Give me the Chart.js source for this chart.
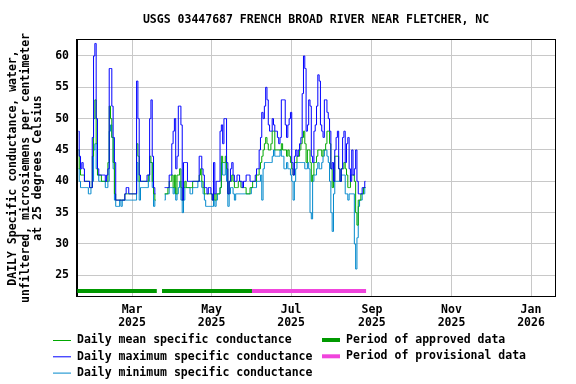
<!DOCTYPE html>
<html>
<head>
<meta charset="utf-8">
<script src="https://cdn.jsdelivr.net/npm/chart.js@4.4.1/dist/chart.umd.min.js"></script>
<style>
  html, body { margin: 0; padding: 0; background: #fff; }
  #wrap { width: 576px; height: 384px; }
</style>
</head>
<body>
<div id="wrap"><canvas id="chart" width="576" height="384"></canvas></div>
<script>
// ==================================
// Data (day numbers count from Jan 1 2025 = 0)
// ==================================
const firstDayA = 18;   // Jan 19 2025
const firstDayB = 84;   // Mar 26 2025

const maxA = [48,44,42,43,42,40,40,40,40,39, 39,47,60,62,50,42,41,41,41,41,
  41,40,41,42,58,58,52,47,43,37, 37,37,37,37,37,37,38,39,39,38,
  38,38,38,38,38,56,50,41,40,40, 40,40,40,41,41,50,53,44,39,38];
const meanA = [45,42,41,41,41,40,40,40,40,39, 39,44,50,53,46,41,41,41,40,40,
  40,40,40,43,52,50,47,43,38,37, 37,37,37,37,37,37,38,38,38,38,
  38,38,38,38,38,46,44,40,40,40, 40,40,40,40,41,44,43,40,38,37];
const minA = [42,40,39,39,39,39,39,39,38,38, 39,40,45,46,42,41,40,40,40,40,
  40,39,39,40,48,49,47,42,37,36, 36,36,37,36,37,37,37,37,37,37,
  37,37,37,37,37,43,40,37,39,39, 39,39,39,39,40,43,43,39,36,37];

const maxB = [39,39,39,39,41,41,46,48,50,42, 44,52,52,49,37,43,43,43,40,40,
  40,40,40,40,40,40,40,44,44,42, 41,39,39,38,39,39,38,37,43,38,
  40,40,40,48,49,46,50,50,43,38, 40,42,43,41,40,40,41,41,40,40,
  39,40,40,41,41,41,40,40,40,40, 41,42,42,45,47,51,50,52,55,53,
  49,48,48,50,49,48,48,47,46,47, 53,53,53,49,47,49,50,51,43,41,
  44,45,44,45,46,47,54,60,58,48, 49,53,52,44,43,48,49,52,57,56,
  49,48,47,53,53,51,50,48,42,43, 40,45,47,48,42,40,42,47,48,43,
  46,47,42,40,45,41,42,45,40,38, 38,38,39,39,40];
const meanB = [38,38,38,39,40,40,41,39,41,38, 41,41,42,39,37,39,40,39,39,39,
  39,39,40,40,40,40,40,41,42,40, 39,38,38,38,38,38,38,37,38,37,
  38,38,38,39,44,43,43,44,42,38, 40,40,41,40,39,39,39,40,40,39,
  39,39,39,38,38,38,39,39,40,40, 40,41,41,42,43,44,45,46,47,46,
  45,45,46,48,48,45,45,45,45,45, 46,45,45,45,44,45,44,43,42,41,
  43,43,44,44,45,46,47,48,46,43, 45,45,43,40,41,43,43,44,45,45,
  45,44,45,45,46,48,48,46,42,39, 40,44,44,44,42,40,42,42,43,42,
  41,39,39,41,41,41,40,35,33,37, 37,38,38,39,39];
const minB = [37,38,38,38,39,39,39,38,39,37, 38,39,40,37,35,37,39,39,39,39,
  38,38,39,39,39,39,40,40,40,39, 38,37,36,36,36,36,36,36,37,36,
  37,38,38,39,43,41,41,43,40,36, 38,39,39,38,37,38,38,38,38,38,
  38,38,38,38,38,38,38,39,39,39, 39,40,40,40,41,37,42,43,43,43,
  43,43,43,44,45,44,44,44,44,45, 44,44,42,42,43,42,42,41,40,37,
  40,42,43,43,43,43,43,43,42,42, 43,42,35,34,40,41,41,42,43,42,
  42,43,44,45,45,44,43,40,35,32, 38,40,40,40,40,40,41,41,41,38,
  38,37,38,38,38,38,30,26,31,36, 37,37,38,38,39];

const approvedPeriods = [[17, 78], [82, 151]];
const provisionalPeriods = [[151, 238.5]];

const monthTicks = [59, 120, 181, 243, 304, 365];
const monthLabels = [["Mar", "2025"], ["May", "2025"], ["Jul", "2025"],
  ["Sep", "2025"], ["Nov", "2025"], ["Jan", "2026"]];
const valueTicks = [25, 30, 35, 40, 45, 50, 55, 60];

const titleText = "USGS 03447687 FRENCH BROAD RIVER NEAR FLETCHER, NC";
const yTitle = ["DAILY Specific conductance, water,",
  "unfiltered, microsiemens per centimeter",
  "at 25 degrees Celsius"];

// ==================================
// Helpers
// ==================================
const FONT = "bold 11.5px 'DejaVu Sans Mono', monospace";
const BAR_LEVEL = 22.5;

function toPoints(valsA, valsB) {
  const pts = valsA.map((v, i) => ({ x: firstDayA + i, y: v }));
  pts.push({ x: firstDayA + valsA.length, y: null });
  valsB.forEach((v, i) => pts.push({ x: firstDayB + i, y: v }));
  return pts;
}

function periodPoints(periods) {
  const pts = [];
  periods.forEach(([a, b], i) => {
    if (i > 0) pts.push({ x: (pts[pts.length - 1].x + a) / 2, y: null });
    pts.push({ x: a, y: BAR_LEVEL }, { x: b, y: BAR_LEVEL });
  });
  return pts;
}

const series = (label, data, color) => ({
  label, data, borderColor: color, borderWidth: 1,
  pointRadius: 0, stepped: "middle", spanGaps: false,
});

const legendRows = [
  { text: "Daily mean specific conductance", color: "#00a800" },
  { text: "Daily maximum specific conductance", color: "#0000ff" },
  { text: "Daily minimum specific conductance", color: "#0088cc" },
];
const periodRows = [
  { text: "Period of approved data", color: "#009900" },
  { text: "Period of provisional data", color: "#f044dc" },
];

// ==================================
// Title, frame, y title and legend
// ==================================
const decorations = {
  id: "decorations",
  afterDraw(chart) {
    const { ctx, chartArea: a } = chart;
    ctx.save();
    ctx.strokeStyle = "#000";
    ctx.lineWidth = 1;
    ctx.strokeRect(a.left - 0.5, a.top - 0.5, a.right - a.left + 1, a.bottom - a.top + 1);

    ctx.font = FONT;
    ctx.fillStyle = "#000";
    ctx.textBaseline = "middle";
    ctx.textAlign = "center";
    ctx.fillText(titleText, (a.left + a.right) / 2, 20);

    // y title, rotated
    ctx.save();
    ctx.translate(0, (a.top + a.bottom) / 2);
    ctx.rotate(-Math.PI / 2);
    yTitle.forEach((line, i) => ctx.fillText(line, 0, 13 + i * 12.6));
    ctx.restore();

    // legend
    ctx.textAlign = "left";
    legendRows.forEach((r, i) => {
      const y = 340.5 + i * 16.3;
      ctx.strokeStyle = r.color;
      ctx.lineWidth = 1;
      ctx.beginPath();
      ctx.moveTo(53, y);
      ctx.lineTo(71, y);
      ctx.stroke();
      ctx.fillText(r.text, 77, y);
    });
    periodRows.forEach((r, i) => {
      const y = 340 + i * 16.3;
      ctx.fillStyle = r.color;
      ctx.fillRect(322, y - 2, 18, 4);
      ctx.fillStyle = "#000";
      ctx.fillText(r.text, 346, y);
    });
    ctx.restore();
  },
};

// ==================================
// Chart
// ==================================
new Chart(document.getElementById("chart"), {
  type: "line",
  data: {
    datasets: [
      series("Daily maximum specific conductance", toPoints(maxA, maxB), "#0000ff"),
      series("Daily mean specific conductance", toPoints(meanA, meanB), "#00a800"),
      series("Daily minimum specific conductance", toPoints(minA, minB), "#0088cc"),
      {
        label: "Period of approved data", data: periodPoints(approvedPeriods),
        borderColor: "#009900", borderWidth: 4, pointRadius: 0, borderCapStyle: "butt",
      },
      {
        label: "Period of provisional data", data: periodPoints(provisionalPeriods),
        borderColor: "#f044dc", borderWidth: 4, pointRadius: 0, borderCapStyle: "butt",
      },
    ],
  },
  options: {
    responsive: false,
    devicePixelRatio: 1,
    animation: false,
    layout: { padding: { top: 40, right: 21, left: 0, bottom: 0 } },
    plugins: {
      legend: { display: false },
      tooltip: { enabled: false },
    },
    scales: {
      x: {
        type: "linear",
        min: 16.8,
        max: 383.4,
        afterFit: (s) => { s.height = 88; },
        afterBuildTicks: (s) => { s.ticks = monthTicks.map((v) => ({ value: v })); },
        grid: { color: "#c8c8c8", drawTicks: false },
        border: { color: "#000" },
        ticks: {
          autoSkip: false, maxRotation: 0, padding: 8, color: "#000",
          font: { family: "'DejaVu Sans Mono', monospace", size: 11.5, weight: "bold", lineHeight: 1.13 },
          callback: (v, i) => monthLabels[i],
        },
      },
      y: {
        min: 21.7,
        max: 62.55,
        afterFit: (s) => { s.width = 77; },
        afterBuildTicks: (s) => { s.ticks = valueTicks.map((v) => ({ value: v })); },
        grid: { color: "#c8c8c8", drawTicks: false },
        border: { color: "#000" },
        ticks: {
          padding: 8, color: "#000",
          font: { family: "'DejaVu Sans Mono', monospace", size: 11.5, weight: "bold" },
        },
      },
    },
  },
  plugins: [decorations],
});
</script>
</body>
</html>
